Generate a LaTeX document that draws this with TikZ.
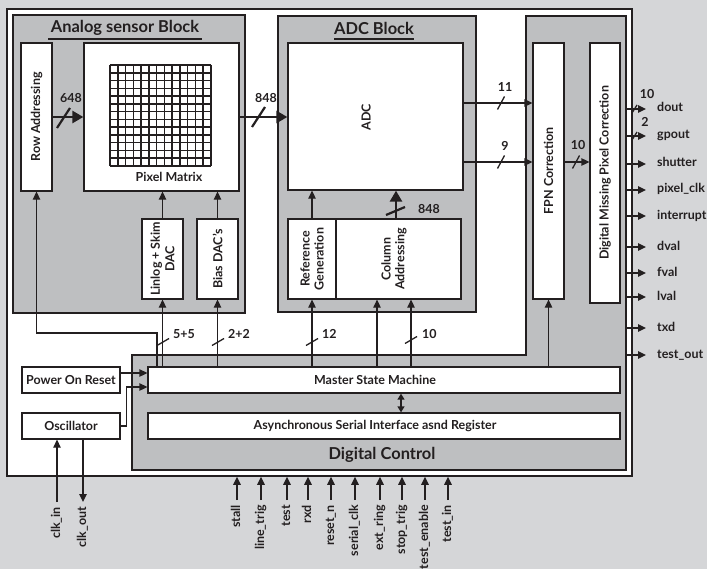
\documentclass[tikz,border=0pt]{standalone}
\usepackage{fontspec}
\setmainfont{Lato}
\usetikzlibrary{arrows.meta,fit}
\definecolor{bgc}{RGB}{213,214,216}
\definecolor{blkc}{RGB}{190,191,193}
\definecolor{lc}{RGB}{35,31,32}
\newcommand\myhslash[1]{\draw[slashmark] ([shift={(-3.5,6.5)}]#1) -- ([shift={(3.5,-6.5)}]#1);}
\newcommand\myvslash[1]{\draw[slashmark] ([shift={(-6,3.5)}]#1) -- ([shift={(6,-3.5)}]#1);}
\begin{document}
\begin{tikzpicture}[x=1bp,y=-1bp,
  box/.style={draw=lc,fill=white,line width=1.3bp,inner sep=0pt},
  gblk/.style={draw=lc,fill=blkc,line width=1.3bp,inner sep=0pt},
  lbl/.style={text=lc,inner sep=0pt,font=\fontsize{12.5}{14}\selectfont\bfseries},
  rlbl/.style={lbl,rotate=90,align=center},
  ttl/.style={text=lc,inner sep=0pt,font=\fontsize{16.5}{18}\selectfont\bfseries},
  pin/.style={lbl,text height=8.5bp,text depth=2.5bp},
  ln/.style={draw=lc,line width=1.3bp,-{Triangle[length=8bp,width=7.5bp]}},
  thk/.style={draw=lc,line width=2.6bp,-{Triangle[length=11bp,width=12bp]}},
  dbl/.style={draw=lc,line width=1.3bp,{Triangle[length=6bp,width=7bp]}-{Triangle[length=6bp,width=7bp]}},
  slashmark/.style={draw=lc,line width=1.3bp},
  bigslash/.style={draw=lc,line width=2.2bp},
  gridln/.style={draw=lc,line width=1.6bp}
]
\fill[bgc] (0,0) rectangle (707,569);
\useasboundingbox (0,0) rectangle (707,569);

% chip outline
\node[box,line width=1.5bp,fit={(7,9)(632,476)}] (chip) {};

% grey blocks
\node[gblk,fit={(13,15)(245,313)}] (ana) {};
\node[gblk,fit={(278,16)(476,312)}] (adcb) {};
\draw[gblk] (132,355) -- (526,355) -- (526,16) -- (626,16) -- (626,470) -- (132,470) -- cycle;
\coordinate (dige) at (626,0);

% titles
\node[ttl] (tana) at (125,28) {Analog sensor Block};
\draw[lc,line width=2.5bp] (48,39) -- (202,39);
\node[ttl] (tadc) at (374,28) {ADC Block};
\draw[lc,line width=2.5bp] (334,39) -- (414,39);
\node[ttl] (tdig) at (382,455) {Digital Control};

% analog sensor block
\node[box,fit={(21,43)(52,191)}] (row) {};
\node[rlbl] (trow) at (row.center) {Row Addressing};
\node[box,fit={(84,43)(239,191)}] (pix) {};
\foreach \i in {0,...,13}{
  \draw[gridln] ({110+\i*101/13},65) -- ({110+\i*101/13},166);
  \draw[gridln] (110,{65+\i*101/13}) -- (211,{65+\i*101/13});
}
\node[lbl] (tpix) at (169,177) {Pixel Matrix};
\node[box,fit={(142,219)(183,299)}] (lin) {};
\node[rlbl,font=\fontsize{12.5}{14.5}\selectfont\bfseries] (tlin) at (lin.center) {Linlog + Skim\\DAC};
\node[box,fit={(197,219)(238,299)}] (bias) {};
\node[rlbl] (tbias) at (bias.center) {Bias DAC’s};

% ADC block
\node[box,fit={(288,43)(463,190)}] (adc) {};
\node[rlbl] (tadcb) at (366,117) {ADC};
\node[box,fit={(288,219)(336,299)}] (ref) {};
\node[rlbl,font=\fontsize{12.5}{14}\selectfont\bfseries] (tref) at (ref.center) {Reference\\Generation};
\node[box,fit={(336,219)(461,299)}] (col) {};
\node[rlbl,font=\fontsize{12.5}{14}\selectfont\bfseries] (tcol) at (394,259) {Column\\Addressing};

% digital blocks
\node[box,fit={(533,43)(564,299)}] (fpn) {};
\node[rlbl] (tfpn) at (fpn.center) {FPN Correction};
\node[box,fit={(590,43)(620,303)}] (dmpc) {};
\node[rlbl] (tdmpc) at (dmpc.center) {Digital Missing Pixel Correction};
\node[box,fit={(148,367)(620,393)}] (msm) {};
\node[lbl] (tmsm) at (375,380) {Master State Machine};
\node[box,fit={(148,413)(620,439)}] (asi) {};
\node[lbl] (tasi) at (375,426) {Asynchronous Serial Interface asnd Register};
\node[box,fit={(22,367)(120,393)}] (por) {};
\node[lbl] (tpor) at (por.center) {Power On Reset};
\node[box,fit={(22,413)(120,439)}] (osc) {};
\node[lbl] (tosc) at (osc.center) {Oscillator};

% data paths
\draw[thk] (row.east) -- (pix.west);
\draw[bigslash] (57,128) -- (70,108);
\node[lbl] (l648) at (71,98) {648};
\draw[thk] (pix.east) -- (pix.east -| adc.west);
\draw[bigslash] (252,127) -- (265,107);
\node[lbl] (l848) at (266,98) {848};

\draw[ln] (adc.east |- 0,103) -- (fpn.west |- 0,103);
\node[lbl] (l11) at (505,87) {11};
\draw[ln] (adc.east |- 0,162) -- (fpn.west |- 0,162);
\node[lbl] (l9) at (505,146) {9};
\myhslash{501,103}
\myhslash{501,162}
\draw[ln] (fpn.east |- 0,162) -- (dmpc.west |- 0,162);
\myhslash{576,162}
\node[lbl] (l10a) at (578,145) {10};

\draw[ln] (ref.north) -- (ref.north |- adc.south);
\draw[thk] (396,0 |- col.north) -- (396,0 |- adc.south);
\draw[bigslash] (386,215) -- (405,207);
\node[lbl] (l848b) at (429,209) {848};

\draw[ln] (lin.north) -- (lin.north |- pix.south);
\draw[ln] (bias.north) -- (bias.north |- pix.south);

% control paths from master state machine
\draw[ln] (lin.south |- msm.north) -- (lin.south);
\myvslash{163,342}
\node[lbl,anchor=west] (l55) at (173,334) {5+5};
\draw[ln] (bias.south |- msm.north) -- (bias.south);
\myvslash{218,342}
\node[lbl,anchor=west] (l22) at (228,334) {2+2};
\draw[ln] (ref.south |- msm.north) -- (ref.south);
\myvslash{312,342}
\node[lbl,anchor=west] (l12) at (322,334) {12};
\draw[ln] (377,0 |- msm.north) -- (377,0 |- col.south);
\draw[ln] (411,0 |- msm.north) -- (411,0 |- col.south);
\myvslash{411,340}
\node[lbl,anchor=west] (l10b) at (422,334) {10};
\draw[ln] (157,0 |- msm.north) -- (157,333) -| (row.south);
\draw[ln] (fpn.south |- msm.north) -- (fpn.south);
\draw[dbl] (401,0 |- msm.south) -- (401,0 |- asi.north);

\draw[ln] (por.east |- 0,373) -- (msm.west |- 0,373);
\draw[ln] (osc.east) -- ++(6,0) |- (msm.west |- 0,387);

% clock pins
\node[pin,rotate=90,anchor=east,inner xsep=5bp] (clkin) at (57,502) {clk\_in};
\draw[ln] (clkin.east) -- (clkin.east |- osc.south);
\node[pin,rotate=90,anchor=east,inner xsep=5bp] (clkout) at (83,502) {clk\_out};
\draw[ln] (clkout.east |- osc.south) -- (clkout.east);

% bottom input pins
\foreach \nm/\tx/\xx in {stall/stall/237, ltrig/line\_trig/261, test/test/287, rxd/rxd/308, rst/reset\_n/331, sclk/serial\_clk/355, ering/ext\_ring/380, strig/stop\_trig/402, ten/test\_enable/425, tin/test\_in/448}{
  \node[pin,rotate=90,anchor=east,inner xsep=5bp] (i-\nm) at (\xx,500) {\tx};
  \draw[ln] (i-\nm.east) -- (i-\nm.east |- chip.south);
}

% right output pins
\foreach \nm/\tx/\yy in {dout/dout/109, gpout/gpout/136, shut/shutter/164, pclk/pixel\_clk/190, intr/interrupt/216, dval/dval/247, fval/fval/273, lval/lval/297, txd/txd/328, tout/test\_out/355}{
  \node[pin,anchor=west,inner xsep=11bp] (o-\nm) at (646,\yy) {\tx};
  \draw[ln] (dige |- o-\nm.west) -- (o-\nm.west);
}
\draw[slashmark] (632,113) -- (637,105);
\draw[slashmark] (632,140) -- (637,132);
\node[lbl] (l10c) at (647,94) {10};
\node[lbl] (l2) at (645,122) {2};
\end{tikzpicture}
\end{document}
